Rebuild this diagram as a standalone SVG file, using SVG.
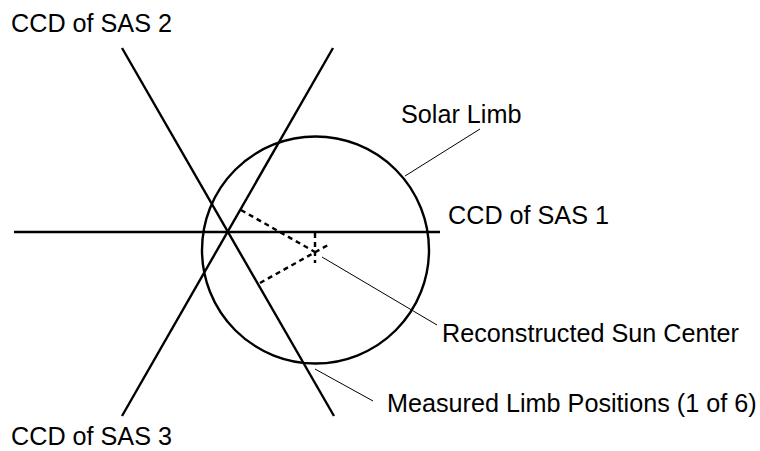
<svg xmlns="http://www.w3.org/2000/svg" width="760" height="451" viewBox="0 0 760 451">
<style>
.main{stroke:#000;stroke-width:2.4;fill:none}
.dash{stroke:#000;stroke-width:2.4;fill:none;stroke-dasharray:5 4}
.lead{stroke:#000;stroke-width:1;fill:none}
text{font-family:"Liberation Sans",Arial,sans-serif;font-size:25.2px;fill:#000}
</style>
<rect width="760" height="451" fill="#fff"/>
<g id="sun">
<circle class="main" cx="315.5" cy="250" r="113.5"/>
</g>
<g id="connectors">
<line class="main" x1="14" y1="232" x2="440" y2="232"/>
<line class="main" x1="122" y1="48" x2="334" y2="416"/>
<line class="main" x1="333" y1="48" x2="122" y2="416"/>
<line class="dash" x1="241" y1="210" x2="315" y2="252"/>
<line class="dash" x1="260" y1="283" x2="328" y2="245"/>
<line class="dash" x1="315" y1="233" x2="315" y2="263"/>
<line class="lead" x1="405" y1="176" x2="480" y2="129"/>
<line class="lead" x1="322" y1="257" x2="437" y2="325"/>
<line class="lead" x1="315" y1="369" x2="373" y2="401"/>
</g>
<g id="labels">
<text x="11" y="32">CCD of SAS 2</text>
<text x="11" y="445">CCD of SAS 3</text>
<text x="448" y="224">CCD of SAS 1</text>
<text x="401" y="123">Solar Limb</text>
<text x="442" y="342">Reconstructed Sun Center</text>
<text x="387" y="412">Measured Limb Positions (1 of 6)</text>
</g>
</svg>
